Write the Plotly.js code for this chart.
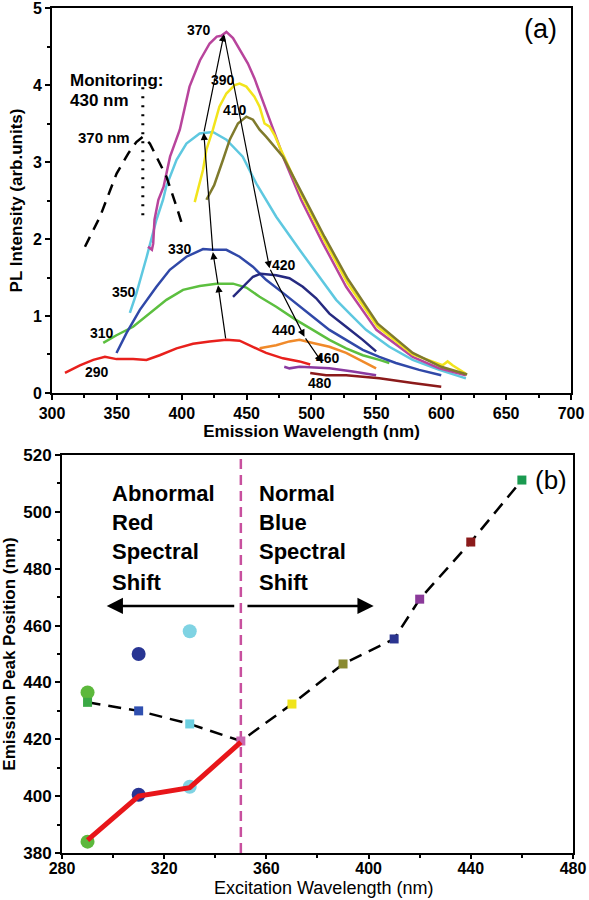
<!DOCTYPE html>
<html><head><meta charset="utf-8">
<script src="https://cdn.plot.ly/plotly-3.0.1.min.js"></script>
<style>html,body{margin:0;padding:0;background:#fff}#c{width:589px;height:900px}</style>
</head><body><div id="c"></div>
<script>
// ---------- Panel (a): PL emission spectra ----------
const ex290_x=[310,321.5,331.8,340.8,349.7,362.5,372.8,383,396,408.7,421.5,434.4,444.6,454.8,465,478,490.8,499];
const ex290_y=[0.26,0.36,0.43,0.47,0.44,0.44,0.43,0.49,0.58,0.64,0.67,0.69,0.68,0.60,0.52,0.45,0.41,0.37];
const ex310_x=[339.5,349.7,362.5,375.4,388.2,401,413.8,426.7,439.5,449.8,460,472.8,488,501,513.8,526.7,539.5,552.3,560];
const ex310_y=[0.65,0.75,0.86,1.04,1.21,1.34,1.39,1.42,1.42,1.37,1.25,1.12,0.95,0.82,0.69,0.58,0.49,0.43,0.39];
const ex330_x=[349.7,357.5,367.7,380.5,390.8,403.6,416.4,424,434.4,444.6,454.8,465,476.5,488,501,513.8,526.7,539.5,552.3,565,583,600];
const ex330_y=[0.52,0.78,1.08,1.38,1.60,1.77,1.87,1.86,1.86,1.77,1.64,1.47,1.32,1.16,0.99,0.82,0.69,0.56,0.47,0.39,0.30,0.23];
const ex350_x=[360,365,373,380.5,385.6,388,396,403.6,413.8,424,434.4,442,447,457.5,472.8,490.8,506,519,530,542,560,578,598.5,619];
const ex350_y=[1.04,1.29,1.77,2.25,2.51,2.68,3.03,3.24,3.37,3.39,3.29,3.16,3.07,2.72,2.29,1.86,1.51,1.21,1.02,0.82,0.60,0.43,0.30,0.19];
const ex370_x=[374,377,378,379,382,386,391,398.5,406,414,421.5,427,430.5,434.4,439.5,446,451,456,460,464,468,471.5,475.4,478,492,508.6,526.7,550,578,598.5,619];
const ex370_y=[1.90,1.86,1.94,2.25,2.51,2.68,3.07,3.42,3.98,4.32,4.54,4.63,4.64,4.69,4.61,4.43,4.28,4.09,3.91,3.72,3.55,3.37,3.20,3.07,2.51,1.95,1.38,0.82,0.47,0.32,0.23];
const ex390_x=[410,416.4,419,424,429,434.4,440.8,444.6,449.8,456,460,463.8,467.7,471.5,475.4,493,510,528,551,578,601,604.9,608.7,619];
const ex390_y=[2.48,2.90,3.16,3.42,3.72,3.89,4.00,4.02,3.98,3.85,3.72,3.50,3.46,3.35,3.20,2.55,1.98,1.42,0.86,0.50,0.36,0.41,0.36,0.25];
const ex410_x=[419,425,431.8,437,443.3,449.8,454.9,460,465,471.5,478,494,510,528,551,578,600,620];
const ex410_y=[2.51,2.70,3.03,3.29,3.50,3.59,3.55,3.42,3.33,3.20,3.07,2.55,2.03,1.48,0.90,0.52,0.34,0.24];
const ex420_x=[439.5,447,454.9,461,472.8,483,493.3,503.6,513.8,526.7,539.5,549.8];
const ex420_y=[1.25,1.38,1.51,1.55,1.53,1.49,1.38,1.23,1.03,0.86,0.69,0.54];
const ex440_x=[460,472.8,483,490.8,501,513.8,526.7,539.5,549.8];
const ex440_y=[0.58,0.62,0.67,0.69,0.65,0.60,0.52,0.41,0.32];
const ex460_x=[479,483,490.8,513.8,531.8,549.8];
const ex460_y=[0.34,0.32,0.34,0.32,0.28,0.23];
const ex480_x=[499,511.3,526.7,552.3,578,600];
const ex480_y=[0.26,0.23,0.23,0.19,0.13,0.08];
const excit_x=[325.4,337,342,349.8,358.7,365,370.2,375.4,380.5,388.2,396,399.7];
const excit_y=[1.90,2.29,2.51,2.85,3.11,3.26,3.33,3.24,3.07,2.81,2.42,2.22];
const monitor_x=[370,370];
const monitor_y=[3.97,2.29];

const curveNames=['290','310','330','350','370','390','410','420','440','460','480'];
const curveX=[ex290_x,ex310_x,ex330_x,ex350_x,ex370_x,ex390_x,ex410_x,ex420_x,ex440_x,ex460_x,ex480_x];
const curveY=[ex290_y,ex310_y,ex330_y,ex350_y,ex370_y,ex390_y,ex410_y,ex420_y,ex440_y,ex460_y,ex480_y];
const curveColors=['#e8201c','#5cbf3f','#3048a8','#5ec8e0','#b8449c','#f2e41c','#7f7a2c','#262a80','#f08a2a','#8a3aa0','#8b1a1a'];

// curve labels (a)
const labA_text=['370','390','410','330','350','310','290','420','440','460','480'];
const labA_x=[413.5,431.9,440.8,398.8,355.8,338.8,335,478.8,478.8,512.7,506.9];
const labA_y=[4.71,4.06,3.68,1.87,1.31,0.78,0.27,1.66,0.82,0.45,0.13];

// arrows (a): tail -> head
const arrA_tx=[434,428,424,417,432.5,467.7,494.6];
const arrA_ty=[0.69,1.40,1.83,3.38,4.66,1.62,0.73];
const arrA_hx=[428,424,417,432.5,467.7,494.6,508];
const arrA_hy=[1.40,1.83,3.38,4.66,1.62,0.73,0.40];

// ---------- Panel (b): emission peak vs excitation ----------
const sq_x=[290,310,330,350,370,390,410,420,440,460];
const sq_y=[433,430,425.4,419.4,432.4,446.5,455.3,469.3,489.4,511.2];
const sq_colors=['#3aa844','#3050b0','#6dcfe0','#c866b0','#f0e41c','#8a8a30','#2b3590','#8b3a9a','#8b1a1a','#1a9a50'];
const circ_x=[290,310,330,290,310,330];
const circ_y=[436.5,450,458,384,400.5,403.3];
const circ_colors=['#5cb83c','#283593','#7fd3e3','#5cb83c','#283593','#7fd3e3'];
const red_x=[290,310,330,350];
const red_y=[384.5,400,403,419];
const vline_x=[350,350];
const vline_y=[380,520];

const FONT='Liberation Sans, Arial, sans-serif';
const traces=[];
curveNames.forEach((n,i)=>{
  traces.push({x:curveX[i],y:curveY[i],type:'scatter',mode:'lines',line:{color:curveColors[i],width:2.5},xaxis:'x',yaxis:'y',hoverinfo:'skip'});
});
traces.push({x:excit_x,y:excit_y,type:'scatter',mode:'lines',line:{color:'#000',width:2.5,dash:'11px,8px'},xaxis:'x',yaxis:'y'});
traces.push({x:monitor_x,y:monitor_y,type:'scatter',mode:'lines',line:{color:'#000',width:3,dash:'2px,7px'},xaxis:'x',yaxis:'y'});

traces.push({x:vline_x,y:vline_y,type:'scatter',mode:'lines',line:{color:'#c8509e',width:2.5,dash:'10px,6px'},xaxis:'x2',yaxis:'y2',cliponaxis:true});
traces.push({x:circ_x,y:circ_y,type:'scatter',mode:'markers',marker:{symbol:'circle',size:14,color:circ_colors,line:{width:0}},xaxis:'x2',yaxis:'y2'});
traces.push({x:sq_x,y:sq_y,type:'scatter',mode:'lines+markers',line:{color:'#000',width:2.5,dash:'13px,8px'},marker:{symbol:'square',size:9,color:sq_colors},xaxis:'x2',yaxis:'y2'});
traces.push({x:red_x,y:red_y,type:'scatter',mode:'lines',line:{color:'#e8161a',width:5},xaxis:'x2',yaxis:'y2'});

const ann=[];
labA_text.forEach((t,i)=>ann.push({x:labA_x[i],y:labA_y[i],xref:'x',yref:'y',text:t,showarrow:false,font:{family:FONT,size:14,color:'#000',weight:'bold'}}));
arrA_tx.forEach((t,i)=>ann.push({x:arrA_hx[i],y:arrA_hy[i],ax:arrA_tx[i],ay:arrA_ty[i],xref:'x',yref:'y',axref:'x',ayref:'y',text:'',showarrow:true,arrowhead:2,arrowsize:1.2,arrowwidth:1.2,arrowcolor:'#000'}));
ann.push({x:312.3,y:4.065,xref:'x',yref:'y',xanchor:'left',text:'Monitoring:',showarrow:false,font:{family:FONT,size:17,weight:'bold',color:'#000'}});
ann.push({x:312.3,y:3.805,xref:'x',yref:'y',xanchor:'left',text:'430 nm',showarrow:false,font:{family:FONT,size:17,weight:'bold',color:'#000'}});
ann.push({x:340,y:3.32,xref:'x',yref:'y',text:'370 nm',showarrow:false,font:{family:FONT,size:15,weight:'bold',color:'#000'}});
ann.push({x:700,y:5,xref:'x',yref:'y',xanchor:'right',yanchor:'top',xshift:-12,yshift:-4,text:'(a)',showarrow:false,font:{family:FONT,size:27,color:'#000'}});

const leftLines=['Abnormal','Red','Spectral','Shift'];
const rightLines=['Normal','Blue','Spectral','Shift'];
const lineY=[506.6,496.1,485.9,475.3];
leftLines.forEach((t,i)=>ann.push({x:298.7,y:lineY[i],xref:'x2',yref:'y2',xanchor:'left',text:t,showarrow:false,font:{family:FONT,size:22,weight:'bold',color:'#000'}}));
rightLines.forEach((t,i)=>ann.push({x:356.3,y:lineY[i],xref:'x2',yref:'y2',xanchor:'left',text:t,showarrow:false,font:{family:FONT,size:22,weight:'bold',color:'#000'}}));
ann.push({x:297.5,y:466.9,ax:348,ay:466.9,xref:'x2',yref:'y2',axref:'x2',ayref:'y2',text:'',showarrow:true,arrowhead:2,arrowsize:1.3,arrowwidth:2.5,arrowcolor:'#000'});
ann.push({x:402,y:466.9,ax:352,ay:466.9,xref:'x2',yref:'y2',axref:'x2',ayref:'y2',text:'',showarrow:true,arrowhead:2,arrowsize:1.3,arrowwidth:2.5,arrowcolor:'#000'});
ann.push({x:480,y:520,xref:'x2',yref:'y2',xanchor:'right',yanchor:'top',xshift:-4,yshift:-8,text:'(b)',showarrow:false,font:{family:FONT,size:26,color:'#000'}});
// x title of panel (b), placed just under its tick labels
ann.push({x:(323-52)/521,y:(853-888)/845,xref:'paper',yref:'paper',xanchor:'center',yanchor:'middle',text:'Excitation Wavelength (nm)',showarrow:false,font:{family:FONT,size:18,color:'#000'}});

const axBase={showline:true,linecolor:'#000',linewidth:2,mirror:true,ticks:'outside',ticklen:5,tickwidth:2,tickcolor:'#000',showgrid:false,zeroline:false,automargin:false,ticklabeloverflow:'allow'};
const layout={
  width:589,height:900,margin:{l:52,r:16,t:8,b:47},paper_bgcolor:'#fff',plot_bgcolor:'#fff',showlegend:false,
  font:{family:FONT,color:'#000'},
  xaxis:Object.assign({},axBase,{domain:[0,519/521],anchor:'y',range:[300,700.01],dtick:50,tick0:300,
    minor:{dtick:25,ticks:'outside',ticklen:3,tickwidth:2,tickcolor:'#000'},
    tickfont:{family:FONT,size:16,weight:'bold'},
    title:{text:'Emission Wavelength (nm)',font:{family:FONT,size:17,weight:'bold'},standoff:4}}),
  yaxis:Object.assign({},axBase,{domain:[0.5444,1],anchor:'x',range:[0,5.001],tickvals:[0,1,2,3,4,5],
    minor:{dtick:0.5,ticks:'outside',ticklen:3,tickwidth:2,tickcolor:'#000'},
    tickfont:{family:FONT,size:16,weight:'bold'},
    title:{text:'PL Intensity (arb.units)',font:{family:FONT,size:17,weight:'bold'},standoff:6}}),
  xaxis2:Object.assign({},axBase,{domain:[10/521,1],anchor:'y2',range:[280,480.01],dtick:40,tick0:280,ticklen:4,ticklabelstandoff:-4,
    minor:{dtick:20,ticks:'outside',ticklen:3,tickwidth:2,tickcolor:'#000'},
    tickfont:{family:FONT,size:16,weight:'bold'}}),
  yaxis2:Object.assign({},axBase,{domain:[0,0.4710],anchor:'x2',range:[380,520.01],dtick:20,
    minor:{dtick:10,ticks:'outside',ticklen:3,tickwidth:2,tickcolor:'#000'},
    tickfont:{family:FONT,size:17,weight:'bold'},
    title:{text:'Emission Peak Position (nm)',font:{family:FONT,size:17,weight:'bold'},standoff:4}}),
  annotations:ann
};
Plotly.newPlot('c',traces,layout,{staticPlot:true,displayModeBar:false});
</script></body></html>
